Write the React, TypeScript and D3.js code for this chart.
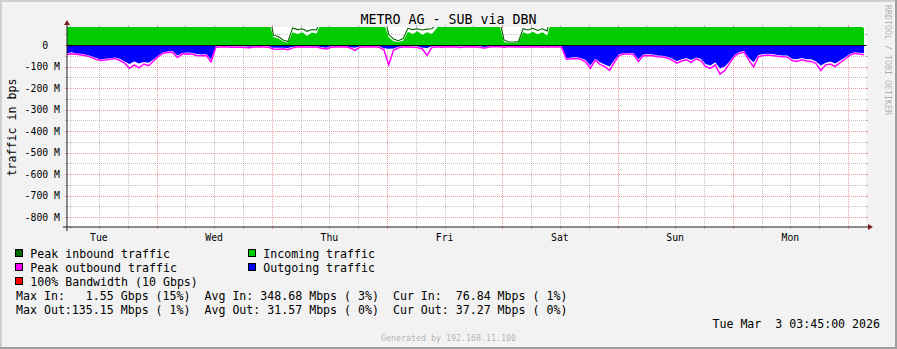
import React from 'react';
import * as d3 from 'd3';

const W = 897;
const H = 349;
const FONT = '"DejaVu Sans Mono", monospace';

// time span
const endTime = Date.UTC(2026, 2, 3, 3, 45);
const spanHours = 166.4;
const startTime = endTime - spanHours * 3600e3;

// hourly samples (Mbps)
const incoming = [
  420, 380, 350, 330, 360, 410, 520, 640, 720, 780, 820, 760, 700, 690, 740, 800, 760, 650, 540, 460,
  400, 360, 330, 300, 280, 260, 250, 270, 300, 240, 180, 150, 140, 130, 150, 200, 260, 320, 300, 260,
  200, 150, 110,
  36, 30, 17, 11, 60, 52, 60, 42, 58, 54,
  110, 160, 220, 300, 380, 420, 400, 350, 300, 260, 220, 180, 140, 100,
  36, 18, 14, 20, 62, 52, 64, 48, 60, 52, 78,
  130, 180, 240, 320, 400, 1550, 420, 360, 300, 240, 180, 130, 95,
  14, 10, 10, 12, 60, 52, 62, 50, 60, 44,
  120, 180, 260, 340, 420, 480, 520, 560, 600, 580, 540, 500, 460, 420, 380, 360, 340, 320, 300, 280,
  300, 340, 380, 420, 460, 500, 540, 580, 560, 520, 480, 440, 400, 380, 360, 340, 320, 300, 290, 280,
  300, 330, 360, 400, 440, 480, 520, 560, 600, 620, 580, 540, 500, 460, 420, 380, 340, 300, 270, 240,
  220, 200, 180, 160, 100,
  76.84,
];

const peakIn = [
  560, 500, 470, 450, 480, 560, 700, 860, 940, 1020, 1100, 980, 920, 900, 960, 1050, 980, 860, 720, 600,
  520, 470, 430, 400, 370, 350, 340, 360, 400, 320, 250, 210, 190, 180, 210, 270, 350, 420, 400, 350,
  270, 210, 160,
  46, 40, 24, 16, 80, 72, 76, 64, 72, 70,
  150, 220, 300, 400, 500, 560, 540, 470, 400, 350, 300, 240, 190, 140,
  50, 28, 20, 30, 78, 72, 76, 70, 74, 76, 100,
  180, 240, 320, 420, 540, 1700, 560, 480, 400, 320, 240, 170, 130,
  24, 14, 14, 16, 76, 70, 78, 68, 76, 66,
  160, 240, 340, 440, 540, 620, 680, 720, 780, 760, 700, 650, 600, 550, 500, 470, 440, 420, 390, 370,
  390, 440, 500, 550, 600, 650, 700, 760, 730, 680, 620, 570, 520, 500, 470, 440, 420, 390, 380, 370,
  390, 430, 470, 520, 570, 620, 680, 730, 780, 800, 760, 700, 650, 600, 550, 500, 440, 390, 350, 310,
  290, 260, 230, 210, 150,
  90,
];

const outgoing = [
  39, 33, 39, 40, 45, 51, 59, 67, 64, 61, 58, 64, 76, 88, 76, 86, 79, 82, 67, 48,
  33, 30, 28, 48, 37, 34, 36, 42, 44, 42, 67,
  6, 4, 4, 5, 4, 5, 6, 8, 5, 4, 4, 5,
  12, 13, 12, 14, 8, 5, 4, 5, 4, 5,
  10, 12, 5, 4, 5, 4,
  10, 12, 5, 4, 5, 4, 5,
  15, 17, 16,
  8, 5, 4, 5, 6,
  12, 14, 6,
  4, 5, 4, 5, 4, 6, 4, 5, 4, 6,
  9,
  5, 4, 4, 5, 4, 5, 4, 5, 4, 5, 4, 5, 4, 5, 4, 5,
  61, 58, 57, 60, 70, 95, 64, 80, 90, 100,
  70, 42, 38, 37, 38, 66, 44, 42, 44, 48,
  50, 54, 62, 75, 66, 60, 70, 58, 64, 88,
  95, 80, 109, 100, 75, 46, 32, 28, 60, 80,
  46, 42, 40, 42, 46, 48, 48, 64, 66, 60,
  66, 66, 76, 95, 82, 76, 86, 72, 58, 42,
  33, 36, 37,
];

const peakOut = [
  44, 40, 43, 46, 50, 56, 66, 72, 70, 66, 63, 72, 84, 108, 92, 106, 88, 96, 74, 54,
  38, 35, 34, 58, 42, 40, 42, 48, 50, 48, 78,
  10, 9, 8, 10, 9, 10, 11, 13, 9, 8, 9, 10,
  18, 20, 17, 22, 13, 9, 8, 10, 8, 9,
  15, 18, 10, 8, 9, 8,
  14, 25, 10, 8, 9, 8, 10,
  22, 92, 24,
  13, 9, 8, 10, 11,
  18, 48, 11,
  8, 10, 8, 9, 8, 11, 8, 9, 8, 11,
  14,
  9, 8, 8, 10, 8, 9, 8, 10, 8, 9, 8, 10, 8, 9, 8, 10,
  66, 64, 62, 66, 78, 108, 70, 90, 100, 118,
  80, 48, 42, 42, 44, 76, 50, 48, 50, 54,
  56, 60, 70, 84, 74, 68, 80, 64, 72, 100,
  108, 92, 135, 118, 84, 52, 38, 34, 70, 102,
  54, 48, 46, 48, 52, 54, 56, 72, 76, 68,
  74, 76, 86, 118, 92, 88, 100, 82, 66, 48,
  38, 42, 45,
];

const yMajorValues = [0, -100, -200, -300, -400, -500, -600, -700, -800];
const yTickLabels = ['0\u00a0\u00a0', '-100 M', '-200 M', '-300 M', '-400 M', '-500 M', '-600 M', '-700 M', '-800 M'];
const yMinorValues = [50, -50, -150, -250, -350, -450, -550, -650, -750];

const legendItems = [
  { label: 'Peak inbound traffic', color: '#006600', col: 0, row: 0 },
  { label: 'Incoming traffic', color: '#00CC00', col: 1, row: 0 },
  { label: 'Peak outbound traffic', color: '#FF00FF', col: 0, row: 1 },
  { label: 'Outgoing traffic', color: '#0000FF', col: 1, row: 1 },
  { label: '100% Bandwidth (10 Gbps)', color: '#FF0000', col: 0, row: 2 },
];

const statLines = [
  'Max In:   1.55 Gbps (15%)  Avg In: 348.68 Mbps ( 3%)  Cur In:  76.84 Mbps ( 1%)',
  'Max Out:135.15 Mbps ( 1%)  Avg Out: 31.57 Mbps ( 0%)  Cur Out: 37.27 Mbps ( 0%)',
];

const title = 'METRO AG - SUB via DBN';
const yTitle = 'traffic in bps';
const dateText = 'Tue Mar  3 03:45:00 2026';
const watermark = 'Generated by 192.168.11.100';
const sideText = 'RRDTOOL / TOBI OETIKER';

export default function App() {
  const X0 = 67, X1 = 866, Y0 = 227, Y1 = 27;
  const x = d3.scaleUtc().domain([new Date(startTime), new Date(endTime)]).range([X0, X1]);
  const y = d3.scaleLinear().domain([-846, 84]).range([Y0, Y1]);
  const times = incoming.map((_, i) => new Date(startTime + i * 3600e3));

  const areaIn = d3.area<number>().x((_, i) => x(times[i])).y0(y(0)).y1((d) => y(d));
  const lineIn = d3.line<number>().x((_, i) => x(times[i])).y((d) => y(d));
  const areaOut = d3.area<number>().x((_, i) => x(times[i])).y0(y(0)).y1((d) => y(-d));
  const lineOut = d3.line<number>().x((_, i) => x(times[i])).y((d) => y(-d));

  const gridTimes = d3.utcHour.every(6)!.range(new Date(startTime), new Date(endTime));
  const days = d3.utcDay.range(d3.utcDay.floor(new Date(startTime)), new Date(endTime));
  const dayLabels = days
    .map((d) => ({ d, noon: new Date(d.getTime() + 12 * 3600e3) }))
    .filter((o) => o.noon.getTime() <= endTime);
  const fmtDay = d3.utcFormat('%a');

  const px = (v: number) => Math.round(v) + 0.5;
  const minorCol = 'rgba(143,143,143,0.55)';
  const majorCol = 'rgba(222,79,79,0.55)';

  return (
    <svg width={W} height={H} style={{ position: 'absolute', left: 0, top: 0 }} fontFamily={FONT}>
      <defs>
        <clipPath id="canvasClip">
          <rect x={X0} y={Y1} width={X1 - X0} height={Y0 - Y1} />
        </clipPath>
      </defs>
      <rect x={0} y={0} width={W} height={H} fill="#F2F2F2" />
      <rect x={0} y={0} width={W} height={2} fill="#CFCFCF" />
      <rect x={0} y={0} width={2} height={H} fill="#CFCFCF" />
      <rect x={0} y={H - 2} width={W} height={2} fill="#9E9E9E" />
      <rect x={W - 2} y={0} width={2} height={H} fill="#9E9E9E" />

      <rect x={X0} y={Y1} width={X1 - X0} height={Y0 - Y1} fill="#FFFFFF" />

      {/* horizontal grid */}
      {yMinorValues.map((v) => (
        <g key={'hm' + v} shapeRendering="crispEdges">
          <line x1={X0} x2={X1} y1={px(y(v))} y2={px(y(v))} stroke={minorCol} strokeDasharray="1,1" />
          <line x1={X0 - 2} x2={X0} y1={px(y(v))} y2={px(y(v))} stroke={minorCol} />
          <line x1={X1} x2={X1 + 2} y1={px(y(v))} y2={px(y(v))} stroke={minorCol} />
        </g>
      ))}
      {yMajorValues.map((v) => (
        <g key={'hM' + v} shapeRendering="crispEdges">
          <line x1={X0} x2={X1} y1={px(y(v))} y2={px(y(v))} stroke={majorCol} strokeDasharray="1,1" />
          <line x1={X0 - 2} x2={X0} y1={px(y(v))} y2={px(y(v))} stroke={majorCol} />
          <line x1={X1} x2={X1 + 2} y1={px(y(v))} y2={px(y(v))} stroke={majorCol} />
        </g>
      ))}
      {/* vertical grid */}
      {gridTimes.map((t) => {
        const major = t.getUTCHours() === 0;
        const c = major ? majorCol : minorCol;
        const xx = px(x(t));
        return (
          <g key={'v' + t.getTime()} shapeRendering="crispEdges">
            <line x1={xx} x2={xx} y1={Y1} y2={Y0} stroke={c} strokeDasharray="1,1" />
            <line x1={xx} x2={xx} y1={Y0} y2={Y0 + 2} stroke={c} />
            <line x1={xx} x2={xx} y1={Y1 - 2} y2={Y1} stroke={c} />
          </g>
        );
      })}

      <g clipPath="url(#canvasClip)">
        <path d={areaIn(incoming) || ''} fill="#00CC00" />
        <path d={lineIn(peakIn) || ''} fill="none" stroke="#006600" strokeWidth={1.1} />
        <path d={areaOut(outgoing) || ''} fill="#0000FF" />
        <path d={lineOut(peakOut) || ''} fill="none" stroke="#FF00FF" strokeWidth={1.5} />
      </g>
      <line x1={X0} x2={X1} y1={px(y(0))} y2={px(y(0))} stroke="#000" shapeRendering="crispEdges" />

      {/* axes */}
      <line x1={X0 - 4} x2={X1 + 4} y1={Y0} y2={Y0} stroke="#1F1F1F" />
      <line x1={X0} x2={X0} y1={Y0 + 4} y2={Y1 - 4} stroke="#1F1F1F" />
      <path d={`M${X1 + 2},${Y0 - 3}L${X1 + 7},${Y0}L${X1 + 2},${Y0 + 3}Z`} fill="#801F1F" />
      <path d={`M${X0 - 3},${Y1 - 2}L${X0},${Y1 - 7}L${X0 + 3},${Y1 - 2}Z`} fill="#801F1F" />

      {/* y tick labels */}
      {yMajorValues.map((v, i) => (
        <text key={'yl' + v} x={60} y={y(v) + 3.6} textAnchor="end" fontSize={9.8} fill="#000" style={{ whiteSpace: 'pre' }}>
          {yTickLabels[i]}
        </text>
      ))}
      {/* day labels */}
      {dayLabels.map((o) => (
        <text key={'d' + o.d.getTime()} x={x(o.noon)} y={240.5} textAnchor="middle" fontSize={9.8} fill="#000">
          {fmtDay(o.d)}
        </text>
      ))}

      <text x={448.5} y={24} textAnchor="middle" fontSize={13.3} fill="#000" style={{ whiteSpace: 'pre' }}>{title}</text>
      <text transform="translate(15.5,127.5) rotate(-90)" textAnchor="middle" fontSize={11.6} fill="#000">{yTitle}</text>
      <text transform="translate(884.5,5) rotate(90)" textAnchor="start" fontSize={8.3} fill="#000" fillOpacity={0.3}>{sideText}</text>

      {/* legend */}
      {legendItems.map((it) => {
        const lx = it.col === 0 ? 15.5 : 248.5;
        const tx = it.col === 0 ? 30.3 : 263.3;
        const by = 258 + it.row * 14;
        return (
          <g key={it.label}>
            <rect x={lx} y={by - 8.5} width={7} height={7} fill={it.color} stroke="#000" strokeWidth={1} shapeRendering="crispEdges" />
            <text x={tx} y={by} fontSize={11.6} fill="#000" style={{ whiteSpace: 'pre' }}>{it.label}</text>
          </g>
        );
      })}
      {statLines.map((s, i) => (
        <text key={'s' + i} x={16} y={300 + i * 14} fontSize={11.6} fill="#000" style={{ whiteSpace: 'pre' }}>{s}</text>
      ))}
      <text x={880} y={328} textAnchor="end" fontSize={11.6} fill="#000" style={{ whiteSpace: 'pre' }}>{dateText}</text>
      <text x={448.5} y={340.5} textAnchor="middle" fontSize={8.3} fill="#000" fillOpacity={0.3}>{watermark}</text>
    </svg>
  );
}
